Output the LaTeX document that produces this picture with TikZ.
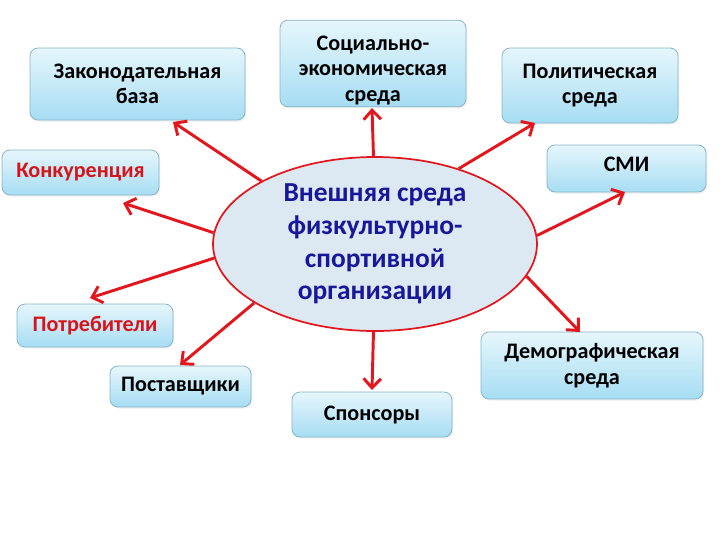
\documentclass[tikz,border=0pt]{standalone}
\usepackage{fontspec}
\setmainfont{Carlito}
\usetikzlibrary{arrows.meta,shapes.geometric,shadows}
\definecolor{arrred}{HTML}{E3161D}
\definecolor{txtred}{HTML}{D8141B}
\definecolor{txtblue}{HTML}{17179A}
\definecolor{boxtop}{HTML}{E6F6FC}
\definecolor{boxbot}{HTML}{A6DDF3}
\definecolor{boxdraw}{HTML}{86B4C8}
\definecolor{ellfill}{HTML}{DCE9F2}
\tikzset{
  boxfont/.style={font=\fontsize{16.6}{19.2}\selectfont\bfseries, align=center},
  box/.style={draw=boxdraw, line width=0.6pt, rounded corners=6pt,
    top color=boxtop, bottom color=boxbot, inner sep=2pt, boxfont,
    drop shadow={opacity=0.12, shadow xshift=1pt, shadow yshift=-1.2pt}},
  redtxt/.style={text=txtred},
  arr/.style={draw=arrred, line width=2.2pt, -{Straight Barb[length=7pt,width=13pt]}}
}
\begin{document}
\begin{tikzpicture}[x=0.75pt,y=-0.75pt]
\useasboundingbox (0,0) rectangle (720,540);
% boxes
\node[box, minimum width=161.25pt, minimum height=54pt] (zak) at (137.5,84) {Законодательная\\база};
\node[box, minimum width=139.5pt, minimum height=65pt,
  label={[boxfont, yshift=-5pt]center:{Социально-\\экономическая\\среда}}] (soc) at (373,63.5) {};
\node[box, minimum width=132pt, minimum height=56.25pt] (pol) at (590,85.5) {Политическая\\среда};
\node[box, minimum width=119.25pt, minimum height=35.25pt,
  label={[boxfont, yshift=3.5pt]center:{СМИ}}] (smi) at (626.5,168.5) {};
\node[box, redtxt, minimum width=117.75pt, minimum height=33.75pt] (kon) at (80.5,172.5) {Конкуренция};
\node[box, redtxt, minimum width=117pt, minimum height=32.25pt] (potr) at (95,325.5) {Потребители};
\node[box, minimum width=105.75pt, minimum height=30.75pt] (post) at (180.5,386.5) {Поставщики};
\node[box, minimum width=120pt, minimum height=33.75pt] (spon) at (372,414.5) {Спонсоры};
\node[box, minimum width=166.5pt, minimum height=50.25pt] (dem) at (592,365.5) {Демографическая\\среда};
% central ellipse
\node[ellipse, draw=arrred, line width=1.3pt, fill=ellfill, inner sep=0pt,
  minimum width=243pt, minimum height=130.5pt, align=center, text=txtblue,
  font=\fontsize{20.6}{24.6}\selectfont\bfseries] (e) at (375,244)
  {Внешняя среда\\физкультурно-\\спортивной\\организации};
% arrow tips
\coordinate (t1) at (173,122);
\coordinate (t2) at (372,108);
\coordinate (t3) at (535,123);
\coordinate (t4) at (625,192);
\coordinate (t5) at (123,203);
\coordinate (t6) at (90,298);
\coordinate (t7) at (180,365);
\coordinate (t8) at (372,390);
\coordinate (t9) at (580,332);
\draw[arr] (e.151) -- (t1);
\draw[arr] (e.91) -- (t2);
\draw[arr] (e.42) -- (t3);
\draw[arr] (e.3) -- (t4);
\draw[arr] (e.176) -- (t5);
\draw[arr] (e.185) -- (t6);
\draw[arr] (e.206) -- (t7);
\draw[arr] (e.269) -- (t8);
\draw[arr] (e.348) -- (t9);
\end{tikzpicture}
\end{document}
